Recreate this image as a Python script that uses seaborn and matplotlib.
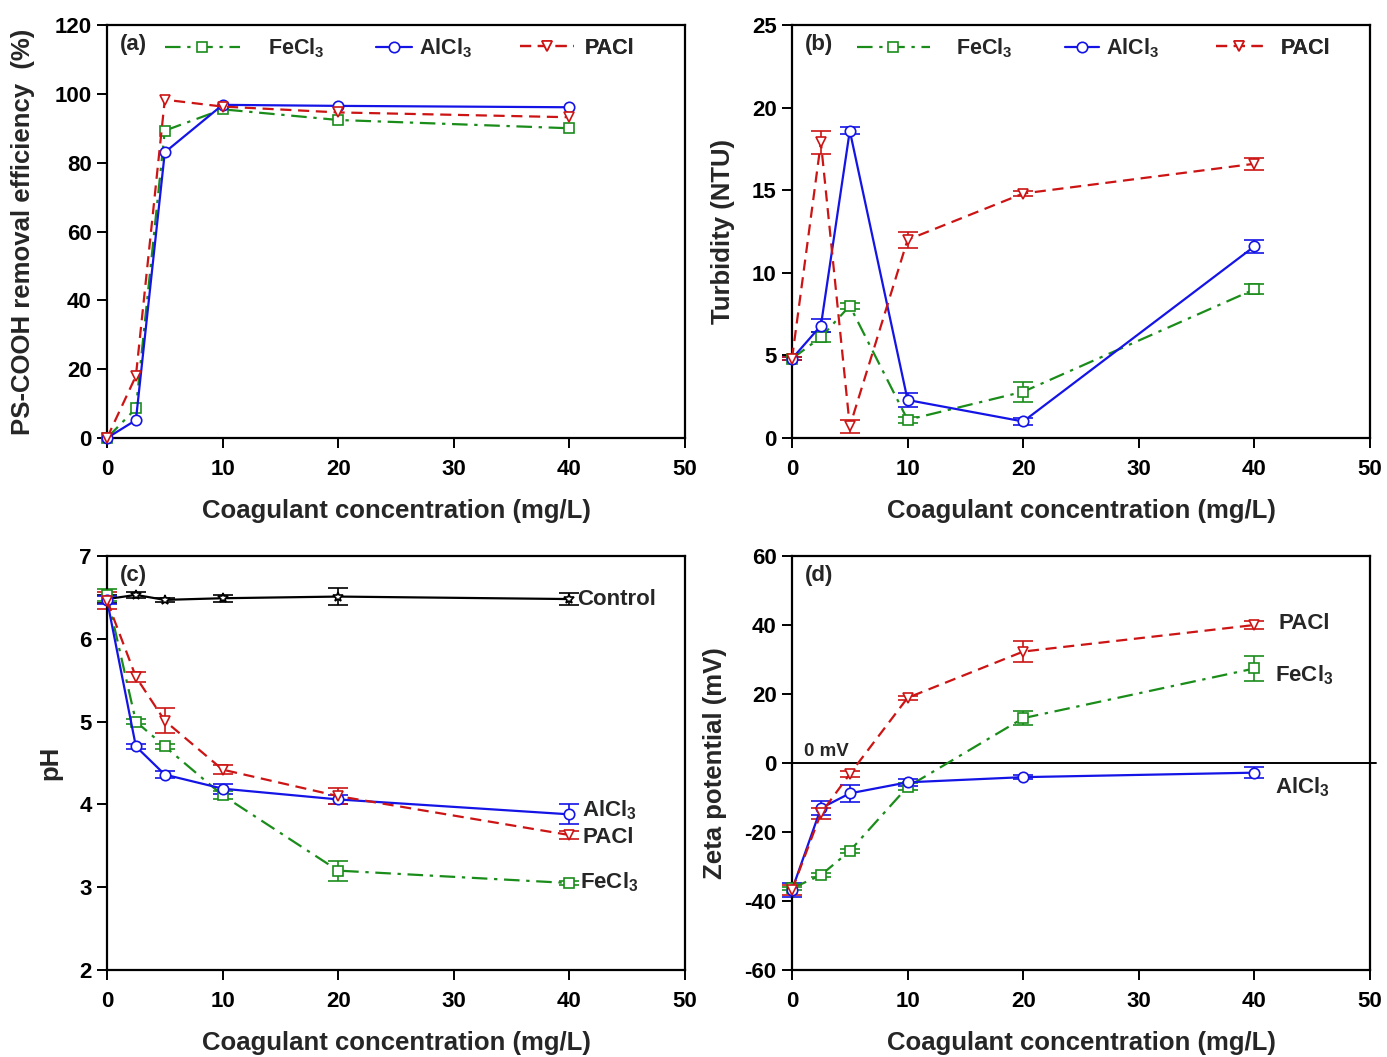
import numpy as np
import pandas as pd
import matplotlib
matplotlib.use("Agg")
import matplotlib.pyplot as plt
import seaborn as sns

# ---- data -------------------------------------------------------------
conc = [0, 2.5, 5, 10, 20, 40]

# (a) PS-COOH removal efficiency (%)
rem_fecl3 = [0, 8.6, 89.3, 95.5, 92.4, 90.0]
rem_alcl3 = [0, 5.2, 83.0, 96.8, 96.5, 96.1]
rem_pacl = [0, 18.0, 98.3, 96.3, 94.6, 93.2]

# (b) turbidity (NTU)
turb_fecl3 = [4.8, 6.1, 8.0, 1.1, 2.8, 9.0]
turb_alcl3 = [4.8, 6.8, 18.6, 2.3, 1.0, 11.6]
turb_pacl = [4.8, 17.9, 0.7, 12.0, 14.8, 16.6]
turb_fecl3_err = [0.1, 0.3, 0.2, 0.2, 0.6, 0.3]
turb_alcl3_err = [0.1, 0.4, 0.2, 0.4, 0.2, 0.4]
turb_pacl_err = [0.1, 0.7, 0.4, 0.5, 0.15, 0.35]

# (c) pH
ph_control = [6.48, 6.53, 6.47, 6.49, 6.51, 6.48]
ph_fecl3 = [6.53, 5.00, 4.70, 4.11, 3.20, 3.05]
ph_alcl3 = [6.47, 4.70, 4.36, 4.19, 4.06, 3.88]
ph_pacl = [6.46, 5.54, 5.01, 4.42, 4.10, 3.63]
ph_control_err = [0.05, 0.04, 0.02, 0.04, 0.10, 0.07]
ph_fecl3_err = [0.07, 0.03, 0.03, 0.05, 0.12, 0.02]
ph_alcl3_err = [0.05, 0.03, 0.04, 0.06, 0.05, 0.12]
ph_pacl_err = [0.10, 0.06, 0.15, 0.05, 0.10, 0.05]

# (d) zeta potential (mV)
zeta_fecl3 = [-36.3, -32.5, -25.5, -6.9, 13.0, 27.4]
zeta_alcl3 = [-36.8, -13.1, -8.8, -5.6, -4.1, -2.8]
zeta_pacl = [-36.8, -14.6, -3.2, 18.9, 32.3, 40.0]
zeta_fecl3_err = [0.5, 0.5, 0.5, 1.0, 2.0, 3.5]
zeta_alcl3_err = [2.0, 2.0, 2.5, 1.0, 0.5, 1.5]
zeta_pacl_err = [1.5, 1.5, 1.0, 0.5, 3.0, 1.2]

x_ticks = [0, 10, 20, 30, 40, 50]
x_label = "Coagulant concentration (mg/L)"

# ---- style ------------------------------------------------------------
sns.set_style("ticks")
plt.rcParams["font.family"] = ["Liberation Sans", "DejaVu Sans"]
plt.rcParams["font.weight"] = "bold"
plt.rcParams["axes.labelweight"] = "bold"
plt.rcParams["axes.unicode_minus"] = False
plt.rcParams["mathtext.fontset"] = "custom"
plt.rcParams["mathtext.rm"] = "Liberation Sans:bold"
plt.rcParams["mathtext.bf"] = "Liberation Sans:bold"
plt.rcParams["mathtext.it"] = "Liberation Sans:bold"

GREEN = "#1a8c1a"
BLUE = "#1414e6"
RED = "#cc1414"
BLACK = "#000000"

FE = r"FeCl$_{3}$"
AL = r"AlCl$_{3}$"
PA = "PACl"

styles = {
    "FeCl3": dict(color=GREEN, marker="s", ls=(0, (7, 3, 1.5, 3)), label=FE),
    "AlCl3": dict(color=BLUE, marker="o", ls="-", label=AL),
    "PACl": dict(color=RED, marker="v", ls=(0, (5, 3)), label=PA),
    "Control": dict(color=BLACK, marker="*", ls="-", label="Control"),
}

TICK_FS = 16
LABEL_FS = 18.5
NOTE_FS = 16


def draw_series(ax, key, y, err=None, ms=7.5):
    st = styles[key]
    df = pd.DataFrame({"conc": conc, "value": y})
    sns.lineplot(data=df, x="conc", y="value", ax=ax, color=st["color"],
                 linestyle=st["ls"], linewidth=1.6, marker=st["marker"],
                 markersize=ms, markerfacecolor="white",
                 markeredgecolor=st["color"], markeredgewidth=1.2,
                 label=st["label"], clip_on=False, zorder=3)
    if err is not None:
        ax.errorbar(conc, y, yerr=err, fmt="none", ecolor=st["color"],
                    elinewidth=1.2, capsize=7, capthick=1.2, zorder=2,
                    clip_on=False)


def style_axes(ax, ylim, yticks, ylabel, tag, ylab_x):
    ax.set_xlim(0, 50)
    ax.set_ylim(*ylim)
    ax.set_xticks(x_ticks)
    ax.set_yticks(yticks)
    for s in ax.spines.values():
        s.set_visible(True)
        s.set_linewidth(1.6)
        s.set_color("black")
    ax.tick_params(direction="out", length=7, width=1.4, labelsize=TICK_FS,
                   colors="black")
    ax.tick_params(axis="x", pad=8)
    ax.tick_params(axis="y", pad=4)
    for lab in ax.get_xticklabels() + ax.get_yticklabels():
        lab.set_fontweight("bold")
    ax.set_xlabel(x_label, fontsize=LABEL_FS, fontweight="bold")
    ax.set_ylabel(ylabel, fontsize=LABEL_FS, fontweight="bold")
    ax.xaxis.set_label_coords(0.5, -0.148)
    ax.yaxis.set_label_coords(ylab_x, 0.5)
    ax.text(0.022, 0.978, tag, transform=ax.transAxes, ha="left", va="top",
            fontsize=16, fontweight="bold")


def split_legend(ax, anchors, lengths, pads):
    """One single-entry legend per series, laid out along the top."""
    handles, labels = ax.get_legend_handles_labels()
    if ax.get_legend() is not None:
        ax.get_legend().remove()
    for h, l, x, hl, hp in zip(handles, labels, anchors, lengths, pads):
        leg = ax.legend([h], [l], loc="center left",
                        bbox_to_anchor=(x, 0.944), frameon=False,
                        fontsize=15.5, handlelength=hl, handletextpad=hp,
                        borderaxespad=0, borderpad=0)
        ax.add_artist(leg)


fig = plt.figure(figsize=(13.87, 10.57), dpi=100)
W, H = 1387, 1057


def axes_at(left, top, right, bottom):
    return fig.add_axes([left / W, 1 - bottom / H, (right - left) / W,
                         (bottom - top) / H])


ax_a = axes_at(107, 25, 685, 438)
ax_b = axes_at(792, 25, 1370, 438)
ax_c = axes_at(107, 556, 685, 970)
ax_d = axes_at(792, 556, 1370, 970)

# (a) removal efficiency
draw_series(ax_a, "FeCl3", rem_fecl3)
draw_series(ax_a, "AlCl3", rem_alcl3)
draw_series(ax_a, "PACl", rem_pacl)
style_axes(ax_a, (0, 120), range(0, 121, 20),
           "PS-COOH removal efficiency  (%)", "(a)", -0.125)
split_legend(ax_a, [0.100, 0.465, 0.715], [3.5, 1.7, 2.5], [1.3, 0.3, 0.5])

# (b) turbidity
draw_series(ax_b, "FeCl3", turb_fecl3, turb_fecl3_err)
draw_series(ax_b, "AlCl3", turb_alcl3, turb_alcl3_err)
draw_series(ax_b, "PACl", turb_pacl, turb_pacl_err)
style_axes(ax_b, (0, 25), range(0, 26, 5), "Turbidity (NTU)", "(b)", -0.099)
split_legend(ax_b, [0.112, 0.472, 0.733], [3.4, 1.6, 2.2], [1.2, 0.3, 0.8])

# (c) pH
draw_series(ax_c, "Control", ph_control, ph_control_err, ms=7)
draw_series(ax_c, "FeCl3", ph_fecl3, ph_fecl3_err)
draw_series(ax_c, "AlCl3", ph_alcl3, ph_alcl3_err)
draw_series(ax_c, "PACl", ph_pacl, ph_pacl_err)
style_axes(ax_c, (2, 7), range(2, 8), "pH", "(c)", -0.078)
ax_c.get_legend().remove()
ax_c.text(40.7, ph_control[-1], "Control", fontsize=NOTE_FS,
          fontweight="bold", ha="left", va="center")
ax_c.text(41.1, 3.93, AL, fontsize=NOTE_FS, fontweight="bold", ha="left",
          va="center")
ax_c.text(41.1, 3.60, PA, fontsize=NOTE_FS, fontweight="bold", ha="left",
          va="center")
ax_c.text(40.9, 3.06, FE, fontsize=NOTE_FS, fontweight="bold", ha="left",
          va="center")

# (d) zeta potential
ax_d.axhline(0, xmax=1.01, color="black", linewidth=1.4, zorder=1,
             clip_on=False)
draw_series(ax_d, "FeCl3", zeta_fecl3, zeta_fecl3_err)
draw_series(ax_d, "AlCl3", zeta_alcl3, zeta_alcl3_err)
draw_series(ax_d, "PACl", zeta_pacl, zeta_pacl_err)
style_axes(ax_d, (-60, 60), range(-60, 61, 20), "Zeta potential (mV)",
           "(d)", -0.112)
ax_d.get_legend().remove()
ax_d.text(1.0, 0.8, "0 mV", fontsize=13.5, fontweight="bold", ha="left",
          va="bottom")
ax_d.text(42.1, 40.5, PA, fontsize=NOTE_FS, fontweight="bold", ha="left",
          va="center")
ax_d.text(41.8, 25.5, FE, fontsize=NOTE_FS, fontweight="bold", ha="left",
          va="center")
ax_d.text(41.8, -7.0, AL, fontsize=NOTE_FS, fontweight="bold", ha="left",
          va="center")

fig.savefig("out.png", dpi=100)
